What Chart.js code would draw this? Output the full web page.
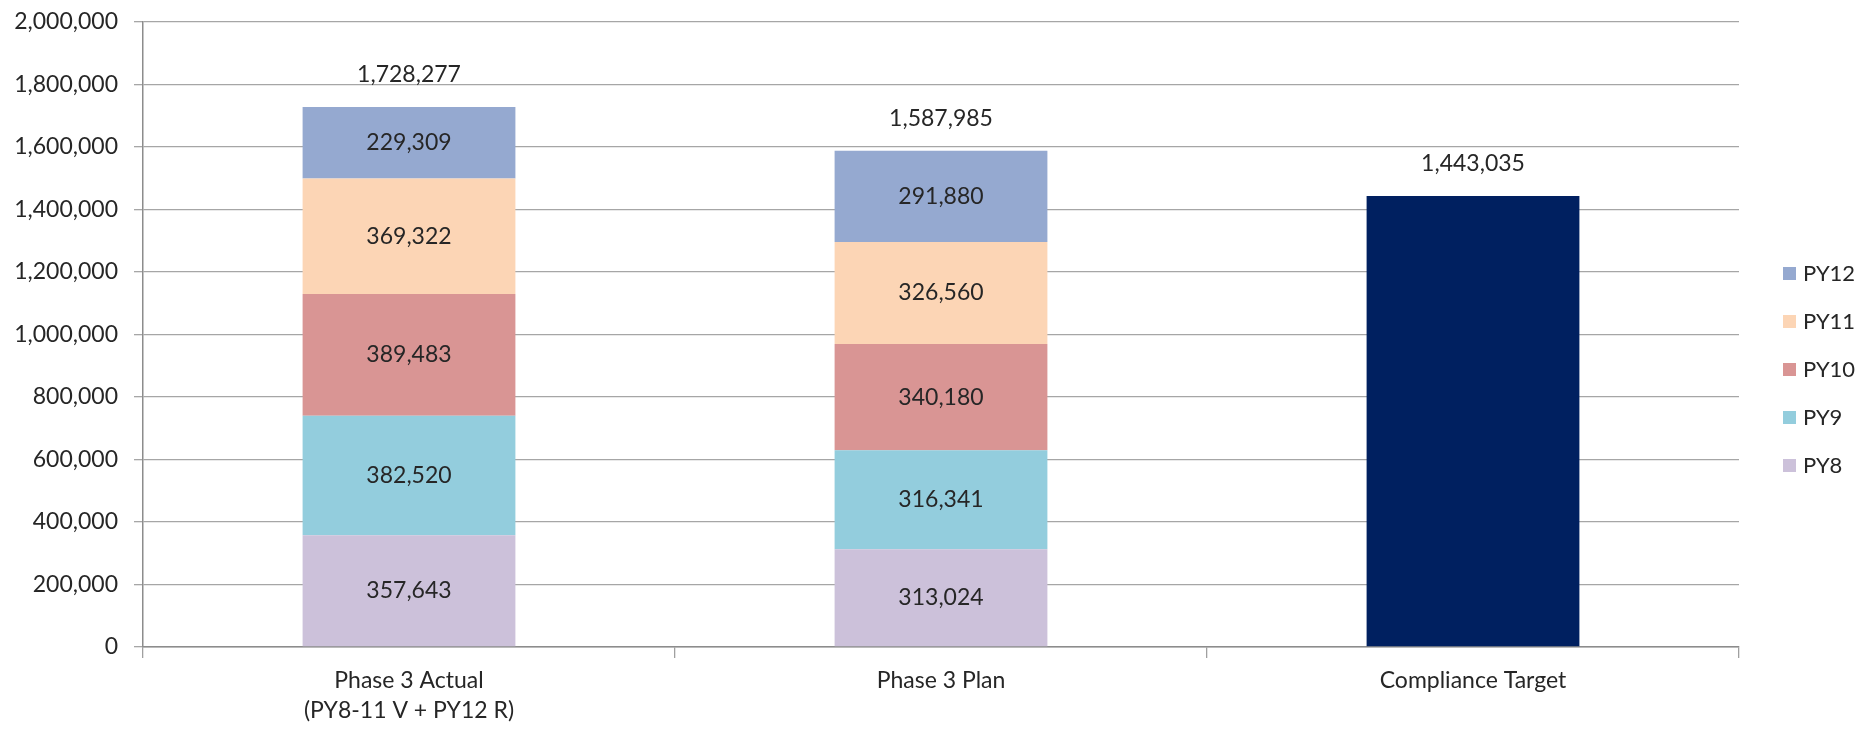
<!DOCTYPE html>
<html>
<head>
<meta charset="utf-8">
<style>
  html, body { margin: 0; padding: 0; background: #fff; }
</style>
</head>
<body>
<canvas id="myChart" width="1874" height="736"></canvas>
<script src="https://cdn.jsdelivr.net/npm/chart.js"></script>
<script>
  const categories = [['Phase 3 Actual', '(PY8-11 V + PY12 R)'], 'Phase 3 Plan', 'Compliance Target'];
  const py8  = [357643, 313024, null];
  const py9  = [382520, 316341, null];
  const py10 = [389483, 340180, null];
  const py11 = [369322, 326560, null];
  const py12 = [229309, 291880, null];
  const target = [null, null, 1443035];
  const yTicks = [0, 200000, 400000, 600000, 800000, 1000000, 1200000, 1400000, 1600000, 1800000, 2000000];

  const textColor = '#262626';
  const fmt = v => v.toLocaleString('en-US');
  Chart.defaults.font.family = 'Lato';
  Chart.defaults.color = textColor;

  // value labels inside each segment + total above each column
  const barLabels = {
    id: 'barLabels',
    afterDatasetsDraw(chart) {
      const ctx = chart.ctx;
      const yScale = chart.scales.y, xScale = chart.scales.x;
      ctx.save();
      ctx.font = '23px Lato';
      ctx.fillStyle = textColor;
      ctx.textAlign = 'center';
      ctx.textBaseline = 'middle';
      chart.data.datasets.forEach((ds, d) => {
        if (ds.noInnerLabel) return;
        chart.getDatasetMeta(d).data.forEach((bar, i) => {
          if (ds.data[i] == null) return;
          ctx.fillText(fmt(ds.data[i]), bar.x, (bar.y + bar.base) / 2);
        });
      });
      categories.forEach((c, i) => {
        const total = chart.data.datasets.reduce((s, ds) => s + (ds.data[i] || 0), 0);
        ctx.fillText(fmt(total), xScale.getPixelForValue(i), yScale.getPixelForValue(total) - 32);
      });
      ctx.restore();
    }
  };

  // legend on the right, PY12 on top
  const sideLegend = {
    id: 'sideLegend',
    afterDraw(chart) {
      const ctx = chart.ctx;
      ctx.save();
      ctx.font = '22px Lato';
      ctx.textAlign = 'left';
      ctx.textBaseline = 'middle';
      const items = chart.data.datasets.filter(ds => !ds.noInnerLabel).reverse();
      items.forEach((ds, i) => {
        const y = 273 + i * 48;
        ctx.fillStyle = ds.backgroundColor;
        ctx.fillRect(1783, y - 6, 13, 13);
        ctx.fillStyle = textColor;
        ctx.fillText(ds.label, 1803, y + 1);
      });
      ctx.restore();
    }
  };

  new Chart(document.getElementById('myChart'), {
    type: 'bar',
    data: {
      labels: categories,
      datasets: [
        { label: 'PY8',  data: py8,  backgroundColor: '#ccc1da' },
        { label: 'PY9',  data: py9,  backgroundColor: '#93cddd' },
        { label: 'PY10', data: py10, backgroundColor: '#d99594' },
        { label: 'PY11', data: py11, backgroundColor: '#fcd5b5' },
        { label: 'PY12', data: py12, backgroundColor: '#95a9d0' },
        { label: 'Compliance Target', data: target, backgroundColor: '#002060', noInnerLabel: true }
      ]
    },
    options: {
      responsive: false,
      devicePixelRatio: 1,
      animation: false,
      categoryPercentage: 1,
      barPercentage: 0.4,
      layout: { padding: { top: 22, right: 135, bottom: 0, left: 0 } },
      plugins: {
        legend: { display: false },
        tooltip: { enabled: false }
      },
      scales: {
        x: {
          stacked: true,
          grid: { drawOnChartArea: false, drawTicks: true, tickLength: 11, color: '#a0a0a0', lineWidth: 1.3 },
          border: { color: '#8c8c8c', width: 1.5 },
          ticks: { font: { size: 23, lineHeight: 1.3 }, padding: 8, maxRotation: 0 },
          afterFit: s => { s.height = 89; }
        },
        y: {
          stacked: true,
          min: 0,
          max: 2000000,
          afterBuildTicks: s => { s.ticks = yTicks.map(v => ({ value: v })); },
          grid: { color: '#a6a6a6', lineWidth: 1.3, tickLength: 9 },
          border: { color: '#8c8c8c', width: 1.5 },
          ticks: { font: { size: 23 }, padding: 16, callback: v => fmt(v) },
          afterFit: s => { s.width = 143; s.paddingTop = 0; s.paddingBottom = 0; }
        }
      }
    },
    plugins: [barLabels, sideLegend]
  });
</script>
</body>
</html>
